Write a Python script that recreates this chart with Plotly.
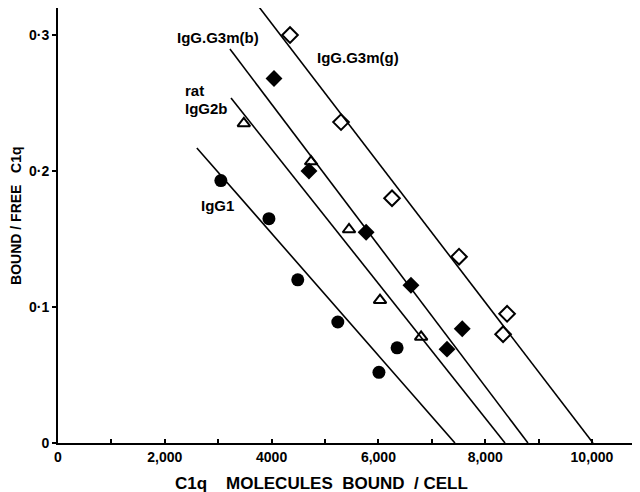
import plotly.graph_objects as go

# IgG1 (filled circles)
igg1_x = [3050, 3950, 4490, 5240, 6350, 6010]
igg1_y = [0.193, 0.165, 0.120, 0.089, 0.070, 0.052]
# rat IgG2b (open triangles)
rat_x = [3480, 4740, 5450, 6030, 6800]
rat_y = [0.235, 0.207, 0.157, 0.105, 0.078]
# IgG.G3m(b) (filled diamonds)
g3mb_x = [4045, 4700, 5770, 6610, 7570, 7285]
g3mb_y = [0.268, 0.200, 0.155, 0.116, 0.084, 0.069]
# IgG.G3m(g) (open diamonds)
g3mg_x = [4345, 5300, 6255, 7510, 8410, 8335]
g3mg_y = [0.300, 0.236, 0.180, 0.137, 0.095, 0.080]

# fitted lines: start x, start y, x-intercept
fit_names = ["IgG1", "rat IgG2b", "IgG.G3m(b)", "IgG.G3m(g)"]
fit_x0 = [2600, 3240, 3220, 3765]
fit_y0 = [0.217, 0.2537, 0.2897, 0.3206]
fit_x1 = [7434, 8371, 8801, 10019]

x_tickvals = [0, 2000, 4000, 6000, 8000, 10000]
x_ticktext = ["0", "2,000", "4000", "6,000", "8,000", "10,000"]
y_tickvals = [0, 0.1, 0.2, 0.3]
y_ticktext = ["0", "0·1", "0·2", "0·3"]

FONT = "Liberation Sans, Arial, sans-serif"
fig = go.Figure()

for x0, y0, x1 in zip(fit_x0, fit_y0, fit_x1):
    fig.add_trace(go.Scatter(x=[x0, x1], y=[y0, 0], mode="lines",
                             line=dict(color="black", width=1.6),
                             showlegend=False, hoverinfo="skip", cliponaxis=False))

fig.add_trace(go.Scatter(x=igg1_x, y=igg1_y, mode="markers",
                         marker=dict(symbol="circle", size=13, color="black"),
                         showlegend=False))
fig.add_trace(go.Scatter(x=rat_x, y=rat_y, mode="markers",
                         marker=dict(symbol="triangle-up-open", size=11, color="black",
                                     line=dict(width=2, color="black")),
                         showlegend=False))
fig.add_trace(go.Scatter(x=g3mb_x, y=g3mb_y, mode="markers",
                         marker=dict(symbol="diamond", size=13, color="black"),
                         showlegend=False))
fig.add_trace(go.Scatter(x=g3mg_x, y=g3mg_y, mode="markers",
                         marker=dict(symbol="diamond-open", size=12, color="black",
                                     line=dict(width=2, color="black")),
                         showlegend=False, cliponaxis=False))

labels = [("IgG.G3m(b)", 2191, 0.2985), ("IgG.G3m(g)", 4813, 0.2838),
          ("rat", 2341, 0.2596), ("IgG2b", 2341, 0.2463), ("IgG1", 2640, 0.175)]
for t, x, y in labels:
    fig.add_annotation(x=x, y=y, text="<b>%s</b>" % t, showarrow=False,
                       xanchor="left", yanchor="middle",
                       font=dict(family=FONT, size=15, color="black"))

nb = "\u00a0"
fig.add_annotation(xref="paper", yref="paper", x=0.4536, y=-0.092,
                   text="<b>C1q" + nb * 4 + "MOLECULES" + nb * 2 + "BOUND" + nb * 2 + "/" + nb + "CELL</b>",
                   showarrow=False, xanchor="center", yanchor="middle",
                   font=dict(family=FONT, size=17, color="black"))
fig.add_annotation(xref="paper", yref="paper", x=-0.0722, y=0.522, textangle=-90,
                   text="<b>BOUND" + nb + "/" + nb + "FREE" + nb * 3 + "C1q</b>",
                   showarrow=False, xanchor="center", yanchor="middle",
                   font=dict(family=FONT, size=14, color="black"))

fig.update_layout(
    width=640, height=492,
    margin=dict(l=50, r=8, t=0, b=57),
    paper_bgcolor="white", plot_bgcolor="white",
    font=dict(family=FONT, size=14, color="black"),
    xaxis=dict(range=[0, 10899], tickvals=x_tickvals, ticktext=["<b>%s</b>" % s for s in x_ticktext],
               showgrid=False, zeroline=False, showline=True, linecolor="black", linewidth=2,
               ticks="inside", ticklen=4, tickcolor="black", tickwidth=1.5, automargin=False,
               tickfont=dict(size=14),
               minor=dict(tickvals=[1000, 3000, 5000, 7000, 9000], ticks="inside", ticklen=4,
                          tickcolor="black", tickwidth=1.5)),
    yaxis=dict(range=[0, 0.3199], tickvals=y_tickvals, ticktext=["<b>%s</b>" % s for s in y_ticktext],
               showgrid=False, zeroline=False, showline=True, linecolor="black", linewidth=2,
               ticks="outside", ticklen=4, tickcolor="black", tickwidth=1.5, automargin=False,
               tickfont=dict(size=14)),
)

fig.write_html("out.html")
